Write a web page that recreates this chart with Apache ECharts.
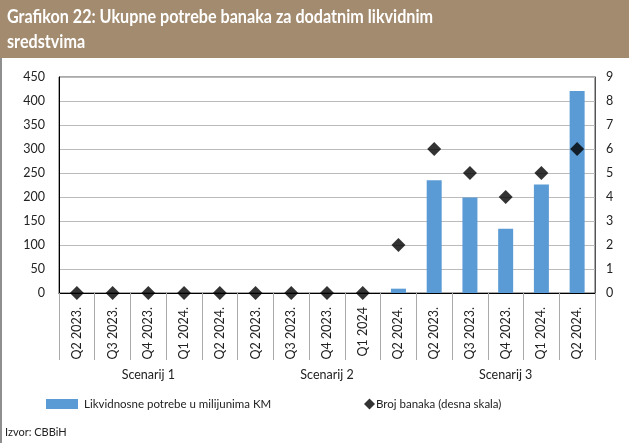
<!DOCTYPE html>
<html>
<head>
<meta charset="utf-8">
<script src="https://cdn.jsdelivr.net/npm/echarts@6/dist/echarts.min.js"></script>
<style>
  html, body { margin: 0; padding: 0; background: #fff; }
  #element { width: 629px; height: 443px; }
</style>
</head>
<body>
<div id="element"></div>
<script>
// kvartali po scenarijima
const categories = [
  'Q2 2023.', 'Q3 2023.', 'Q4 2023.', 'Q1 2024.', 'Q2 2024.',
  'Q2 2023.', 'Q3 2023.', 'Q4 2023.', 'Q1 2024', 'Q2 2024.',
  'Q2 2023.', 'Q3 2023.', 'Q4 2023.', 'Q1 2024.', 'Q2 2024.'
];
const scenarios = ['Scenarij 1', 'Scenarij 2', 'Scenarij 3'];
const liquidityNeeds = [0, 0, 0, 0, 0, 0, 0, 0, 0, 9, 235, 199, 134, 226, 421];
const bankCount = [0, 0, 0, 0, 0, 0, 0, 0, 0, 2, 6, 5, 4, 5, 6];

const font = 'Lato';
const txt = '#222';
const myEcharts = echarts.init(document.getElementById('element'));

myEcharts.setOption({
  animation: false,
  textStyle: { fontFamily: font },
  graphic: [
    { type: 'rect', left: 0, top: 0, shape: { width: 629, height: 58 }, style: { fill: '#A38B6F' } },
    {
      type: 'text', x: 7, y: 4, scaleX: 0.85,
      style: { text: 'Grafikon 22: Ukupne potrebe banaka za dodatnim likvidnim\nsredstvima', fill: '#fff', font: 'bold 19px Lato', lineHeight: 25 }
    },
    { type: 'line', shape: { x1: 1, y1: 58, x2: 1, y2: 443 }, style: { stroke: '#444', lineWidth: 1.2 } },
    { type: 'text', left: 5, top: 427, style: { text: 'Izvor: CBBiH', fill: txt, font: '11px Lato' } }
  ],
  grid: { left: 59, right: 34, top: 77, bottom: 150, show: true, borderColor: '#555', borderWidth: 1 },
  legend: [
    {
      left: 46, top: 398, padding: 0, itemWidth: 32, itemHeight: 10, icon: 'rect',
      data: ['Likvidnosne potrebe u milijunima KM'],
      textStyle: { fontFamily: font, fontSize: 11.5, color: txt, padding: [0, 0, 0, 1] }
    },
    {
      left: 364, top: 398, padding: 0, itemWidth: 11, itemHeight: 11, icon: 'diamond',
      data: ['Broj banaka (desna skala)'],
      textStyle: { fontFamily: font, fontSize: 11.5, color: txt, padding: [0, 0, 0, -4] }
    }
  ],
  xAxis: [
    {
      type: 'category', data: categories, position: 'bottom',
      axisLine: { lineStyle: { color: '#000', width: 1.2 } },
      axisTick: { show: true, length: 67, lineStyle: { color: '#aaa' } },
      axisLabel: { rotate: 90, margin: 14, fontSize: 12.5, color: txt, fontFamily: font, interval: 0 }
    },
    {
      type: 'category', data: scenarios, position: 'bottom', offset: 67,
      axisLine: { show: false },
      axisTick: { show: true, length: 22, lineStyle: { color: '#aaa' } },
      axisLabel: { margin: 8, fontSize: 12.5, color: txt, fontFamily: font }
    }
  ],
  yAxis: [
    {
      type: 'value', min: 0, max: 450, interval: 50,
      axisLine: { show: true, lineStyle: { color: '#000' } },
      axisTick: { show: false },
      splitLine: { lineStyle: { color: '#bbb' } },
      axisLabel: { margin: 14, fontSize: 12.5, color: txt, fontFamily: font }
    },
    {
      type: 'value', min: 0, max: 9, interval: 1, position: 'right',
      axisLine: { show: true, lineStyle: { color: '#555' } },
      axisTick: { show: false },
      splitLine: { show: false },
      axisLabel: { margin: 11, fontSize: 12.5, color: txt, fontFamily: font }
    }
  ],
  series: [
    {
      name: 'Likvidnosne potrebe u milijunima KM', type: 'bar',
      xAxisIndex: 0, yAxisIndex: 0, data: liquidityNeeds,
      barWidth: 15, itemStyle: { color: '#5B9BD5' }
    },
    {
      name: 'Broj banaka (desna skala)', type: 'scatter',
      xAxisIndex: 0, yAxisIndex: 1, data: bankCount,
      symbol: 'diamond', symbolSize: 14, z: 5,
      itemStyle: { color: '#000' }
    }
  ]
});
</script>
</body>
</html>
